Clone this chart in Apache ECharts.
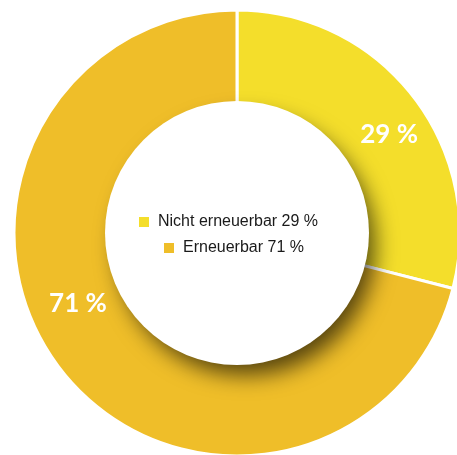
<!DOCTYPE html>
<html>
<head>
<meta charset="utf-8">
<script src="https://cdn.jsdelivr.net/npm/echarts@6/dist/echarts.min.js"></script>
<style>
html,body{margin:0;padding:0;background:#fff;}
#chart{width:457px;height:455px;}
</style>
</head>
<body>
<div id="chart"></div>
<script>
const categories = ['Nicht erneuerbar', 'Erneuerbar'];
const values = [29, 71];
const colors = ['#F4DE2B', '#EFBE29'];
const labelShift = [[11, 11], [-18, -39]];

const chart = echarts.init(document.getElementById('chart'), null, {renderer: 'canvas'});

function legendFor(i, left, top) {
  return {
    data: [categories[i]],
    left: left,
    top: top,
    z: 20,
    padding: 0,
    icon: 'rect',
    itemWidth: 12,
    itemHeight: 12,
    selectedMode: false,
    formatter: function (name) {
      return name + ' ' + values[categories.indexOf(name)] + ' %';
    },
    textStyle: {
      fontFamily: 'Liberation Sans',
      fontSize: 16,
      color: '#1a1a1a',
      padding: [0, 0, 0, 3]
    }
  };
}

chart.setOption({
  animation: false,
  backgroundColor: '#ffffff',
  color: colors,
  legend: [legendFor(0, 137, 214), legendFor(1, 162, 240)],
  series: [
    {
      type: 'pie',
      center: [237, 233],
      radius: [128, 223],
      startAngle: 90,
      clockwise: true,
      silent: true,
      z: 2,
      itemStyle: {borderColor: '#ffffff', borderWidth: 3},
      label: {
        show: true,
        position: 'inside',
        formatter: '{c} %',
        color: '#ffffff',
        fontFamily: 'Lato',
        fontWeight: 'bold',
        fontSize: 26
      },
      labelLine: {show: false},
      labelLayout: function (p) {
        const d = labelShift[p.dataIndex];
        return {dx: d[0], dy: d[1]};
      },
      data: categories.map(function (c, i) {
        return {name: c, value: values[i], itemStyle: {color: colors[i]}};
      })
    },
    {
      type: 'pie',
      center: [237, 233],
      radius: [0, 129],
      silent: true,
      z: 3,
      label: {show: false},
      labelLine: {show: false},
      itemStyle: {
        color: '#ffffff',
        borderWidth: 0,
        shadowColor: 'rgba(0,0,0,0.65)',
        shadowBlur: 22,
        shadowOffsetX: 9,
        shadowOffsetY: 13
      },
      data: [{name: 'disk', value: 1}]
    },
    {
      type: 'pie',
      center: [237, 233],
      radius: [0, 132],
      silent: true,
      z: 4,
      label: {show: false},
      labelLine: {show: false},
      itemStyle: {color: '#ffffff', borderWidth: 0},
      data: [{name: 'disk top', value: 1}]
    }
  ]
});
</script>
</body>
</html>
